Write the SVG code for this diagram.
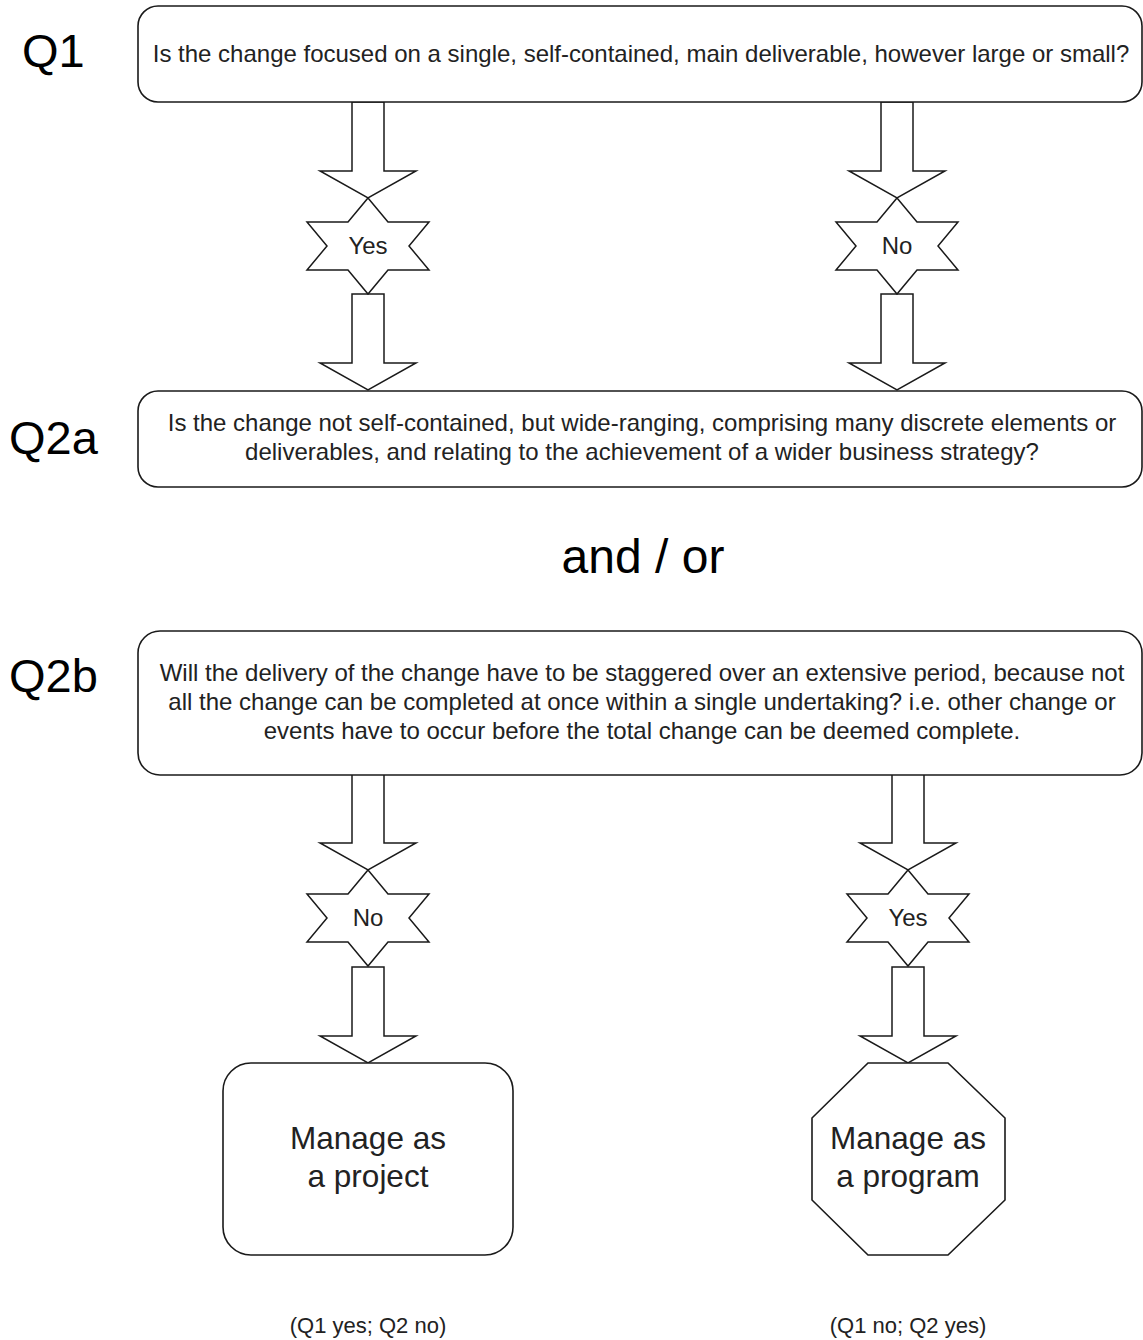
<svg xmlns="http://www.w3.org/2000/svg" xmlns:xlink="http://www.w3.org/1999/xlink" width="1143" height="1340" viewBox="0 0 1143 1340">
  <style>
    .box { fill: #ffffff; stroke: #1a1a1a; stroke-width: 1.6; }
    .shape { fill: #ffffff; stroke: #1a1a1a; stroke-width: 1.5; stroke-linejoin: miter; }
    .q { font-family: "Liberation Sans", Arial, sans-serif; font-size: 47px; fill: #000000; }
    .txt { font-family: "Liberation Sans", Arial, sans-serif; font-size: 24px; fill: #222222; text-anchor: middle; }
    .lbl { font-family: "Liberation Sans", Arial, sans-serif; font-size: 24px; fill: #222222; text-anchor: middle; }
    .big { font-family: "Liberation Sans", Arial, sans-serif; font-size: 31.5px; fill: #222222; text-anchor: middle; }
    .cap { font-family: "Liberation Sans", Arial, sans-serif; font-size: 22px; fill: #222222; text-anchor: middle; }
    .andor { font-family: "Liberation Sans", Arial, sans-serif; font-size: 48px; fill: #000000; text-anchor: middle; }
  </style>
  <defs>
    <!-- block arrow, tip at origin -->
    <polygon id="blockArrow" class="shape" points="-16,-96 16,-96 16,-27 48,-27 0,0 -48,-27 -16,-27"/>
    <!-- six-pointed decision star, centred on origin -->
    <polygon id="star" class="shape" points="0,-48 20,-24 61,-24 41,0 61,24 20,24 0,48 -20,24 -61,24 -41,0 -61,-24 -20,-24"/>
  </defs>

  <rect width="1143" height="1340" fill="#ffffff"/>

  <!-- question labels -->
  <g id="labels">
    <text class="q" x="22" y="67">Q1</text>
    <text class="q" x="9" y="454">Q2a</text>
    <text class="q" x="9" y="692">Q2b</text>
    <text class="andor" x="643" y="573">and / or</text>
  </g>

  <!-- connectors: block arrows and yes/no stars -->
  <g id="connectors">
    <use xlink:href="#blockArrow" x="368" y="198"/>
    <use xlink:href="#blockArrow" x="368" y="390"/>
    <use xlink:href="#blockArrow" x="897" y="198"/>
    <use xlink:href="#blockArrow" x="897" y="390"/>
    <use xlink:href="#blockArrow" x="368" y="870"/>
    <use xlink:href="#blockArrow" x="368" y="1063"/>
    <use xlink:href="#blockArrow" x="908" y="870"/>
    <use xlink:href="#blockArrow" x="908" y="1063"/>
  </g>

  <g id="q1">
    <rect class="box" x="138" y="6" width="1004" height="96" rx="20"/>
    <text class="txt" x="641" y="62">Is the change focused on a single, self-contained, main deliverable, however large or small?</text>
  </g>

  <g id="q1-yes">
    <use xlink:href="#star" x="368" y="246"/>
    <text class="lbl" x="368" y="254">Yes</text>
  </g>
  <g id="q1-no">
    <use xlink:href="#star" x="897" y="246"/>
    <text class="lbl" x="897" y="254">No</text>
  </g>

  <g id="q2a">
    <rect class="box" x="138" y="391" width="1004" height="96" rx="20"/>
    <text class="txt" x="642" y="431">Is the change not self-contained, but wide-ranging, comprising many discrete elements or</text>
    <text class="txt" x="642" y="460">deliverables, and relating to the achievement of a wider business strategy?</text>
  </g>

  <g id="q2b">
    <rect class="box" x="138" y="631" width="1004" height="144" rx="22"/>
    <text class="txt" x="642" y="681">Will the delivery of the change have to be staggered over an extensive period, because not</text>
    <text class="txt" x="642" y="710">all the change can be completed at once within a single undertaking? i.e. other change or</text>
    <text class="txt" x="642" y="739">events have to occur before the total change can be deemed complete.</text>
  </g>

  <g id="q2-no">
    <use xlink:href="#star" x="368" y="918"/>
    <text class="lbl" x="368" y="926">No</text>
  </g>
  <g id="q2-yes">
    <use xlink:href="#star" x="908" y="918"/>
    <text class="lbl" x="908" y="926">Yes</text>
  </g>

  <g id="project">
    <rect class="box" x="223" y="1063" width="290" height="192" rx="28"/>
    <text class="big" x="368" y="1149">Manage as</text>
    <text class="big" x="368" y="1187">a project</text>
    <text class="cap" x="368" y="1333">(Q1 yes; Q2 no)</text>
  </g>

  <g id="program">
    <polygon class="box" points="868,1063 948,1063 1005,1118 1005,1200 948,1255 868,1255 812,1200 812,1118"/>
    <text class="big" x="908" y="1149">Manage as</text>
    <text class="big" x="908" y="1187">a program</text>
    <text class="cap" x="908" y="1333">(Q1 no; Q2 yes)</text>
  </g>
</svg>
